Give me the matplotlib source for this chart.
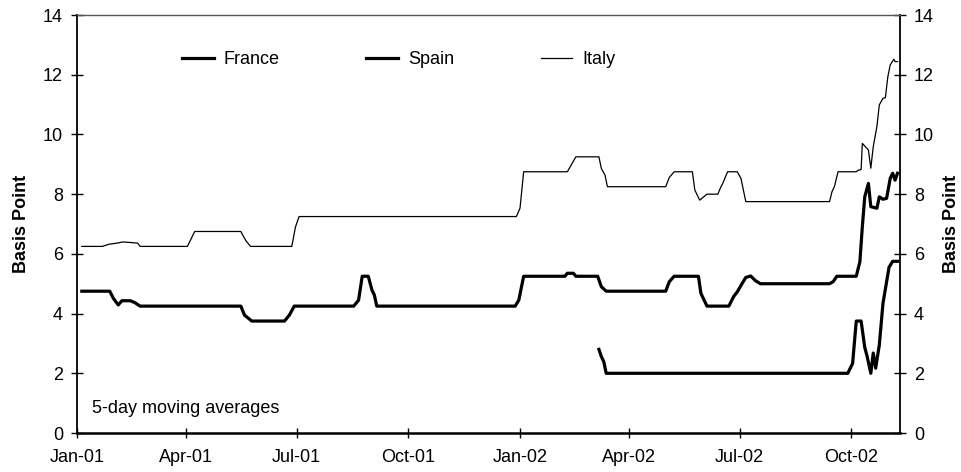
import matplotlib
matplotlib.use("Agg")
import matplotlib.pyplot as plt
import matplotlib.dates as mdates
import pandas as pd

plt.rcParams['font.family'] = ['Liberation Sans', 'DejaVu Sans']

# Italy, 5-day moving average (basis points)
italy_dates = ["2001-01-05", "2001-01-22", "2001-01-27", "2001-02-03", "2001-02-08",
               "2001-02-14", "2001-02-20", "2001-02-22", "2001-04-02", "2001-04-08",
               "2001-05-16", "2001-05-20", "2001-05-24", "2001-06-27", "2001-06-30",
               "2001-07-03", "2001-12-29", "2002-01-01", "2002-01-04", "2002-02-09",
               "2002-02-16", "2002-03-07", "2002-03-09", "2002-03-12", "2002-03-14",
               "2002-05-01", "2002-05-04", "2002-05-08", "2002-05-23", "2002-05-25",
               "2002-05-29", "2002-06-04", "2002-06-13", "2002-06-15", "2002-06-17",
               "2002-06-21", "2002-06-29", "2002-07-02", "2002-07-06", "2002-09-13",
               "2002-09-15", "2002-09-17", "2002-09-20", "2002-10-05", "2002-10-07",
               "2002-10-09", "2002-10-10", "2002-10-15", "2002-10-17", "2002-10-19",
               "2002-10-22", "2002-10-24", "2002-10-27", "2002-10-29", "2002-10-31",
               "2002-11-02", "2002-11-05", "2002-11-06", "2002-11-08"]
italy_values = [6.25, 6.25, 6.32, 6.36, 6.40,
                6.38, 6.36, 6.25, 6.25, 6.75,
                6.75, 6.45, 6.25, 6.25, 6.90,
                7.25, 7.25, 7.53, 8.75, 8.75,
                9.25, 9.25, 8.86, 8.64, 8.25,
                8.25, 8.56, 8.75, 8.75, 8.14,
                7.80, 8.00, 8.00, 8.20, 8.36,
                8.75, 8.75, 8.53, 7.75, 7.75,
                8.08, 8.25, 8.75, 8.75, 8.81,
                8.82, 9.70, 9.48, 8.87, 9.59,
                10.26, 10.99, 11.21, 11.23, 11.93,
                12.33, 12.52, 12.44, 12.44]

# France, 5-day moving average (basis points)
france_dates = ["2001-01-05", "2001-01-28", "2001-01-31", "2001-02-04", "2001-02-07",
                "2001-02-14", "2001-02-18", "2001-02-22", "2001-05-16", "2001-05-19",
                "2001-05-25", "2001-06-21", "2001-06-25", "2001-06-29", "2001-08-17",
                "2001-08-21", "2001-08-24", "2001-08-29", "2001-09-01", "2001-09-03",
                "2001-09-05", "2001-12-28", "2001-12-31", "2002-01-04", "2002-02-07",
                "2002-02-09", "2002-02-14", "2002-02-16", "2002-03-06", "2002-03-09",
                "2002-03-13", "2002-05-01", "2002-05-04", "2002-05-08", "2002-05-28",
                "2002-05-30", "2002-06-04", "2002-06-22", "2002-06-26", "2002-06-29",
                "2002-07-03", "2002-07-06", "2002-07-10", "2002-07-14", "2002-07-18",
                "2002-09-13", "2002-09-16", "2002-09-19", "2002-10-05", "2002-10-08",
                "2002-10-10", "2002-10-12", "2002-10-15", "2002-10-17", "2002-10-22",
                "2002-10-24", "2002-10-27", "2002-10-30", "2002-11-02", "2002-11-04",
                "2002-11-06", "2002-11-08"]
france_values = [4.75, 4.75, 4.51, 4.29, 4.43,
                 4.43, 4.36, 4.25, 4.25, 3.95,
                 3.75, 3.75, 3.95, 4.25, 4.25,
                 4.45, 5.25, 5.25, 4.79, 4.62,
                 4.25, 4.25, 4.45, 5.25, 5.25,
                 5.35, 5.35, 5.25, 5.25, 4.90,
                 4.75, 4.75, 5.07, 5.25, 5.25,
                 4.68, 4.25, 4.25, 4.57, 4.73,
                 5.01, 5.21, 5.26, 5.10, 5.00,
                 5.00, 5.07, 5.25, 5.25, 5.74,
                 6.91, 7.91, 8.36, 7.58, 7.53,
                 7.91, 7.83, 7.86, 8.53, 8.70,
                 8.47, 8.70]

# Spain, 5-day moving average (basis points)
spain_dates = ["2002-03-07", "2002-03-09", "2002-03-11", "2002-03-13", "2002-09-28",
               "2002-10-02", "2002-10-05", "2002-10-09", "2002-10-12", "2002-10-14",
               "2002-10-17", "2002-10-19", "2002-10-21", "2002-10-24", "2002-10-27",
               "2002-11-01", "2002-11-04", "2002-11-08"]
spain_values = [2.80, 2.56, 2.39, 2.00, 2.00,
                2.33, 3.75, 3.75, 2.87, 2.56,
                2.00, 2.68, 2.17, 2.95, 4.34,
                5.55, 5.75, 5.75]

month_ticks = ["2001-01-01", "2001-04-01", "2001-07-01", "2001-10-01",
               "2002-01-01", "2002-04-01", "2002-07-01", "2002-10-01"]
y_ticks = [0, 2, 4, 6, 8, 10, 12, 14]

FS = 13

fig = plt.figure(figsize=(9.62, 4.72), dpi=100)
ax = fig.add_axes([0.0800, 0.0826, 0.8555, 0.8856])

ax.plot(pd.to_datetime(france_dates), france_values, color="black", lw=2.3,
        label="France", solid_joinstyle="round")
ax.plot(pd.to_datetime(spain_dates), spain_values, color="black", lw=2.3,
        label="Spain", solid_joinstyle="round")
ax.plot(pd.to_datetime(italy_dates), italy_values, color="black", lw=0.9,
        label="Italy")

ax.set_xlim(pd.Timestamp("2001-01-01"), pd.Timestamp("2002-11-10"))
ax.set_ylim(0, 14)
ax.set_xticks(pd.to_datetime(month_ticks))
ax.xaxis.set_major_formatter(mdates.DateFormatter("%b-%y"))
ax.set_yticks(y_ticks)

# secondary axis only carries the right-hand title
ax2 = ax.twinx()
ax2.set_ylim(ax.get_ylim())
ax2.set_yticks([])
for s in ax2.spines.values():
    s.set_visible(False)
ax2.set_ylabel("Basis Point", fontsize=FS, fontweight="bold", labelpad=31)

for side in ("left", "right"):
    ax.spines[side].set_linewidth(1.3)
ax.spines["bottom"].set_linewidth(1.8)
ax.spines["top"].set_linewidth(1.0)
ax.spines["top"].set_color("#555555")

ax.tick_params(axis="x", direction="inout", length=7, width=1.0,
               labelsize=FS, pad=8)
ax.tick_params(axis="y", direction="inout", length=8, width=1.0,
               labelsize=FS, pad=6, left=True, right=True,
               labelleft=True, labelright=True)

ax.set_ylabel("Basis Point", fontsize=FS, fontweight="bold", labelpad=9)

ax.text(0.018, 0.058, "5-day moving averages", transform=ax.transAxes,
        fontsize=FS, va="center", ha="left")

ax.legend(loc="center left", bbox_to_anchor=(0.128, 0.893), ncol=3,
          frameon=False, fontsize=FS, handlelength=1.75, handletextpad=0.55,
          columnspacing=4.8, borderpad=0, borderaxespad=0)

fig.savefig("out.png", dpi=100)
